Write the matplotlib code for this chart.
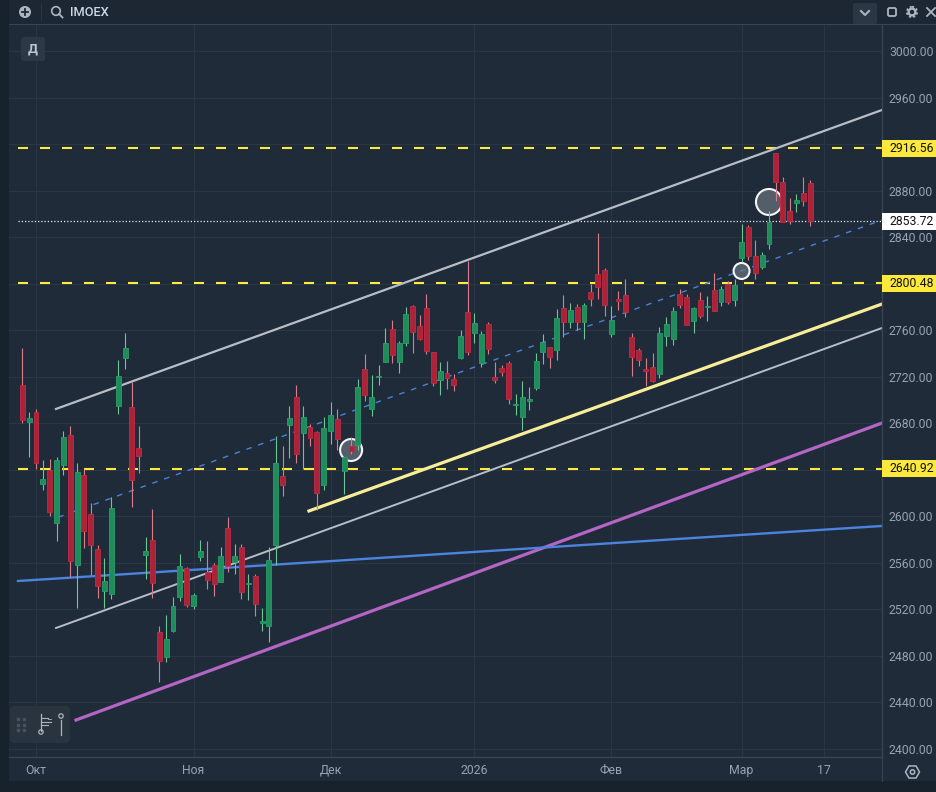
import matplotlib
matplotlib.use('Agg')
import numpy as np
import matplotlib.pyplot as plt
from matplotlib.patches import Rectangle, FancyBboxPatch, Circle, RegularPolygon

plt.rcParams['font.family'] = ['Roboto', 'DejaVu Sans']

# Daily bars of the index
opens = [2712.9, 2681.4, 2689.4, 2628.1, 2639.9, 2594.0, 2644.2, 2670.0, 2558.2, 2635.6,
         2602.1, 2572.0, 2536.2, 2533.6, 2695.2, 2736.4, 2693.7, 2658.8, 2566.8, 2579.7,
         2500.3, 2479.4, 2501.5, 2531.0, 2555.4, 2523.0, 2565.1, 2552.2, 2558.2, 2543.9,
         2589.7, 2560.8, 2573.4, 2541.9, 2548.5, 2508.4, 2506.1, 2575.4, 2634.7, 2678.6,
         2702.6, 2671.9, 2676.5, 2672.2, 2626.9, 2673.6, 2683.4, 2639.3, 2660.7, 2661.3,
         2726.6, 2692.5, 2719.8, 2732.9, 2761.0, 2732.9, 2749.3, 2780.8, 2763.3, 2778.8,
         2741.0, 2717.5, 2722.9, 2717.8, 2736.4, 2775.3, 2757.9, 2732.1, 2765.0, 2719.5,
         2727.2, 2731.5, 2695.7, 2685.7, 2699.4, 2710.6, 2741.6, 2745.3, 2743.3, 2778.8,
         2767.4, 2779.7, 2767.4, 2792.6, 2808.0, 2811.5, 2757.0, 2787.1, 2790.3, 2754.2,
         2742.7, 2727.0, 2728.1, 2722.7, 2755.3, 2752.8, 2791.1, 2788.3, 2768.2, 2785.7,
         2780.0, 2794.3, 2784.6, 2799.7, 2786.3, 2822.4, 2848.4, 2823.5, 2814.1, 2834.4,
         2912.6, 2887.1, 2862.2, 2869.1, 2877.7, 2886.3]
highs = [2744.4, 2689.4, 2692.3, 2648.5, 2649.0, 2650.8, 2673.1, 2677.7, 2645.6, 2640.7,
         2611.2, 2575.1, 2564.2, 2616.4, 2734.4, 2757.3, 2715.8, 2677.7, 2582.0, 2606.1,
         2505.8, 2515.2, 2530.4, 2567.7, 2556.2, 2533.9, 2579.7, 2578.8, 2559.7, 2573.4,
         2599.5, 2576.3, 2576.0, 2550.2, 2550.2, 2521.0, 2574.0, 2669.4, 2660.5, 2694.9,
         2712.9, 2694.8, 2679.1, 2673.6, 2685.1, 2698.0, 2692.0, 2650.7, 2667.9, 2717.8,
         2739.2, 2721.5, 2730.1, 2761.9, 2768.7, 2751.0, 2779.6, 2781.4, 2773.0, 2790.8,
         2741.2, 2732.4, 2733.5, 2722.3, 2760.2, 2819.7, 2774.5, 2759.6, 2766.7, 2732.4,
         2730.4, 2733.2, 2705.1, 2716.0, 2710.9, 2740.1, 2756.5, 2745.9, 2778.0, 2790.3,
         2783.4, 2782.5, 2783.1, 2799.7, 2843.3, 2813.2, 2780.5, 2793.4, 2803.7, 2757.3,
         2744.4, 2735.8, 2740.1, 2762.5, 2771.1, 2780.3, 2795.4, 2791.1, 2779.7, 2792.6,
         2789.7, 2808.9, 2798.3, 2802.6, 2804.0, 2851.3, 2850.2, 2837.6, 2827.2, 2862.5,
         2912.6, 2891.4, 2873.4, 2877.1, 2891.7, 2889.1]
lows = [2680.6, 2651.3, 2640.7, 2622.7, 2600.3, 2579.1, 2635.6, 2547.6, 2521.6, 2573.1,
        2549.6, 2530.1, 2521.6, 2528.7, 2688.3, 2726.7, 2608.4, 2637.0, 2546.2, 2530.1,
        2457.9, 2475.1, 2500.9, 2527.6, 2522.4, 2520.7, 2561.7, 2537.6, 2531.6, 2543.9,
        2552.5, 2550.5, 2529.0, 2528.1, 2514.4, 2501.5, 2492.0, 2558.2, 2617.5, 2650.5,
        2645.6, 2640.7, 2660.7, 2605.4, 2622.6, 2662.2, 2657.0, 2619.2, 2653.3, 2657.0,
        2699.1, 2686.5, 2712.9, 2732.9, 2731.5, 2723.5, 2746.4, 2740.7, 2751.6, 2739.5,
        2712.3, 2704.6, 2709.7, 2707.7, 2735.2, 2739.0, 2749.3, 2728.6, 2739.5, 2714.3,
        2720.9, 2696.6, 2687.1, 2674.2, 2691.4, 2708.6, 2731.0, 2727.8, 2734.7, 2754.5,
        2761.9, 2760.2, 2752.5, 2781.1, 2786.8, 2772.2, 2754.5, 2777.4, 2771.7, 2720.7,
        2729.3, 2712.1, 2715.8, 2719.2, 2746.4, 2747.3, 2779.4, 2764.2, 2757.9, 2770.8,
        2767.9, 2776.5, 2781.1, 2782.5, 2780.8, 2818.4, 2820.4, 2804.3, 2812.3, 2829.5,
        2871.4, 2853.3, 2851.3, 2861.9, 2867.1, 2849.9]
closes = [2682.8, 2684.3, 2645.6, 2631.9, 2604.1, 2648.5, 2668.0, 2561.9, 2637.9, 2587.7,
          2575.4, 2540.5, 2544.2, 2606.9, 2720.7, 2744.4, 2631.6, 2651.9, 2570.0, 2543.0,
          2476.0, 2494.3, 2522.7, 2557.1, 2523.8, 2532.2, 2570.0, 2545.3, 2541.9, 2565.7,
          2557.4, 2565.7, 2535.3, 2543.0, 2524.7, 2510.1, 2562.2, 2645.6, 2627.0, 2684.3,
          2653.6, 2685.4, 2667.6, 2620.3, 2675.6, 2686.8, 2666.5, 2650.7, 2656.4, 2710.9,
          2704.6, 2702.3, 2720.9, 2748.7, 2739.0, 2748.7, 2773.6, 2758.7, 2752.4, 2742.4,
          2714.9, 2724.6, 2719.2, 2712.9, 2755.0, 2741.5, 2765.9, 2756.4, 2743.8, 2717.2,
          2724.1, 2701.1, 2696.6, 2702.3, 2700.6, 2733.2, 2749.6, 2737.3, 2770.2, 2767.4,
          2777.1, 2767.4, 2781.4, 2787.1, 2797.4, 2782.0, 2768.5, 2785.4, 2776.0, 2736.7,
          2734.7, 2725.2, 2716.7, 2757.3, 2765.1, 2776.2, 2781.7, 2764.8, 2778.8, 2772.5,
          2780.5, 2776.8, 2795.2, 2784.6, 2798.9, 2835.5, 2823.8, 2809.5, 2824.4, 2853.3,
          2887.7, 2853.3, 2853.6, 2871.6, 2871.4, 2853.72]

# Horizontal levels and the price tags on them
levels = [2916.56, 2800.48, 2640.92]
last_price = 2853.72

# Trend lines as (bar, price) end points
upper_x, upper_y = [4.92, 125.5], [2692.3, 2949.3]
lower_x, lower_y = [4.92, 125.5], [2504.0, 2761.9]
middle_x, middle_y = [5.25, 125.5], [2599.2, 2854.7]
support_x, support_y = [41.85, 125.5], [2604.6, 2782.5]
purple_x, purple_y = [7.84, 125.5], [2424.9, 2680.2]
blue_x, blue_y = [-0.63, 125.5], [2544.4, 2591.7]

# Circled points on the chart
marker_x = [48, 105, 109]
marker_y = [2657.0, 2810.9, 2870.2]
marker_r = [11, 8, 13]

# Axis ticks
price_ticks = [3000, 2960, 2920, 2880, 2840, 2800, 2760, 2720, 2680, 2640, 2600, 2560, 2520, 2480, 2440, 2400]
hidden_ticks = [2920, 2800, 2640]
date_ticks = [2, 25, 45, 66, 86, 105, 117]
date_labels = ['Окт', 'Ноя', 'Дек', '2026', 'Фев', 'Мар', '17']

W, H = 936, 792
BG = '#1f2b39'
DARK = '#18222d'
BAR = '#1c2733'
EDGE = '#384452'
GRID = '#2a3644'
TXT = '#96a3b0'

fig = plt.figure(figsize=(W / 100, H / 100), dpi=100, facecolor=DARK)

# Panels behind the chart
back = fig.add_axes([0, 0, 1, 1], zorder=0)
back.set_xlim(0, W)
back.set_ylim(H, 0)
back.axis('off')
back.add_patch(Rectangle((9, 0), W - 9, 781, color=BG, lw=0))
back.add_patch(Rectangle((9, 0), W - 9, 24, color=BAR, lw=0))

ax = fig.add_axes([9 / W, 1 - 757 / H, 873 / W, 732 / H], zorder=1)
ax.patch.set_alpha(0)
ax.set_xlim(-1.94, 125.5)
ax.set_ylim(2393.1, 3022.35)

ax.set_yticks(price_ticks)
ax.set_yticklabels(['' if t in hidden_ticks else f'{t:.2f}' for t in price_ticks])
ax.set_xticks(date_ticks)
ax.set_xticklabels(date_labels)
ax.yaxis.tick_right()
ax.tick_params(axis='y', length=0, pad=5, labelsize=8.8, labelcolor=TXT)
ax.tick_params(axis='x', length=0, pad=5, labelsize=8.8, labelcolor=TXT)
ax.grid(True, color=GRID, lw=0.8, zorder=0)
ax.set_axisbelow(True)
for name, spine in ax.spines.items():
    spine.set_visible(name in ('right', 'bottom'))
    spine.set_color(EDGE)
    spine.set_linewidth(1)

x_full = [-0.63, 125.5]

# Levels
for lev in levels:
    ax.plot(x_full, [lev, lev], color='#fdea3c', lw=1.5, ls=(0, (4.8, 5.76)),
            dash_capstyle='butt', zorder=2)
ax.plot(x_full, [last_price, last_price], color='#e8edf2', lw=0.9, ls=(0, (1, 1.6)), zorder=2)

# Trend lines
ax.plot(upper_x, upper_y, color='#b8bec7', lw=1.6, zorder=2)
ax.plot(lower_x, lower_y, color='#b8bec7', lw=1.4, zorder=2)
ax.plot(middle_x, middle_y, color='#4a82d6', lw=1.0, ls=(0, (4, 5)), zorder=2)
ax.plot(support_x, support_y, color='#f8ee98', lw=2.3, zorder=2)
ax.plot(purple_x, purple_y, color='#b565c6', lw=2.3, zorder=2)
ax.plot(blue_x, blue_y, color='#4a84de', lw=1.7, zorder=2)

# Circles sit under the candles
for mx, my, mr in zip(marker_x, marker_y, marker_r):
    ax.scatter([mx], [my], s=(2 * mr * 0.72) ** 2, facecolor='#6b7480', alpha=0.7,
               edgecolor='none', zorder=2.5)
    ax.scatter([mx], [my], s=(2 * mr * 0.72) ** 2, facecolor='none', edgecolor='#f4f6f8',
               linewidth=1.5, zorder=2.6)

# Candles
for i in range(len(opens)):
    up = closes[i] >= opens[i]
    wick = '#6cc795' if up else '#dc7c8a'
    body = '#1f8c5c' if up else '#ab2338'
    rim = '#2a9d6b' if up else '#bf2c44'
    ax.vlines(i, lows[i], highs[i], color=wick, lw=0.8, zorder=3)
    bottom = min(opens[i], closes[i])
    height = max(abs(closes[i] - opens[i]), 0.9)
    ax.bar(i, height, bottom=bottom, width=0.72, color=body, edgecolor=rim, linewidth=0.6, zorder=3.2)

# Price tags on the right axis
tag_tr = ax.get_yaxis_transform()
for lev, col in [(levels[0], '#fde93c'), (levels[1], '#fde93c'), (levels[2], '#fde93c'), (last_price, '#ffffff')]:
    ax.add_patch(Rectangle((1.0, lev - 7.3), 54 / 873, 14.6, transform=tag_tr, facecolor=col,
                           edgecolor='none', clip_on=False, zorder=5))
    ax.text(1.0 + 7 / 873, lev, f'{lev:.2f}', transform=tag_tr, color='#111111', fontsize=8.8,
            va='center', ha='left', zorder=6, clip_on=False)

# Toolbars and buttons on top
ui = fig.add_axes([0, 0, 1, 1], zorder=2)
ui.set_xlim(0, W)
ui.set_ylim(H, 0)
ui.axis('off')
ui.patch.set_alpha(0)
ICON = '#aab5c0'

ui.plot([9, W], [24, 24], color=EDGE, lw=0.8)
ui.plot([41, 41], [4, 20], color='#2a3644', lw=0.8)

# plus button
ui.add_patch(Circle((25, 12), 6, facecolor=ICON, edgecolor='none'))
ui.plot([22, 28], [12, 12], color=BAR, lw=1.3)
ui.plot([25, 25], [9, 15], color=BAR, lw=1.3)
# search
ui.add_patch(Circle((56, 11), 4.3, facecolor='none', edgecolor=ICON, lw=1.2))
ui.plot([59, 62.5], [14, 17.5], color=ICON, lw=1.3)
ui.text(70, 12, 'IMOEX', color='#c9d8e8', fontsize=9.3, fontweight='medium', va='center', ha='left')

# top right buttons
ui.add_patch(FancyBboxPatch((853, 3), 24, 21, boxstyle='round,pad=0,rounding_size=2',
                            facecolor='#2b3744', edgecolor='none'))
ui.plot([861, 865, 869], [11, 15, 11], color=ICON, lw=1.5)
ui.add_patch(FancyBboxPatch((888, 8), 8, 8, boxstyle='round,pad=0,rounding_size=1.5',
                            facecolor='none', edgecolor=ICON, lw=1.3))
ui.add_patch(Circle((912, 12), 3.4, facecolor='none', edgecolor=ICON, lw=1.7))
ui.add_patch(Circle((912, 12), 5.2, facecolor='none', edgecolor=ICON, lw=1.3, ls=(0, (1.2, 1.2))))
ui.plot([927, 935], [8, 16], color=ICON, lw=1.3)
ui.plot([927, 935], [16, 8], color=ICON, lw=1.3)

# interval badge
ui.add_patch(FancyBboxPatch((21, 37), 24, 24, boxstyle='round,pad=0,rounding_size=3',
                            facecolor='#2b3846', edgecolor='none'))
ui.text(33, 49, 'Д', color='#bcc7d2', fontsize=9.5, fontweight='bold', ha='center', va='center')

# drawing toolbar
ui.add_patch(FancyBboxPatch((10, 706), 60, 37, boxstyle='round,pad=0,rounding_size=5',
                            facecolor='#29343f', edgecolor='none'))
for dx in (18, 24):
    for dy in (719, 725, 730):
        ui.plot([dx], [dy], 's', color='#46525e', ms=1.6)
ui.plot([41, 41], [714, 731], color=ICON, lw=0.9)
for y0, wd in ((718, 7), (722, 10), (725, 7)):
    ui.plot([41, 41 + wd], [y0, y0], color=ICON, lw=0.8)
ui.plot([48, 51], [719, 719], color=ICON, lw=0.6)
ui.add_patch(Circle((41, 732), 2.2, facecolor='#29343f', edgecolor=ICON, lw=0.9))
ui.plot([61, 61], [720, 735], color=ICON, lw=0.9)
ui.add_patch(Circle((61, 716), 2.2, facecolor='#29343f', edgecolor=ICON, lw=0.9))

# scale settings
ui.add_patch(RegularPolygon((912.5, 772), 6, radius=7, orientation=np.pi / 6,
                            facecolor='none', edgecolor=ICON, lw=1.1))
ui.add_patch(Circle((912.5, 772), 2.2, facecolor='none', edgecolor=ICON, lw=1.1))
ui.plot([882, 882], [757, 781], color=EDGE, lw=0.8)

fig.savefig('out.png', dpi=100, facecolor=fig.get_facecolor())
plt.close(fig)
